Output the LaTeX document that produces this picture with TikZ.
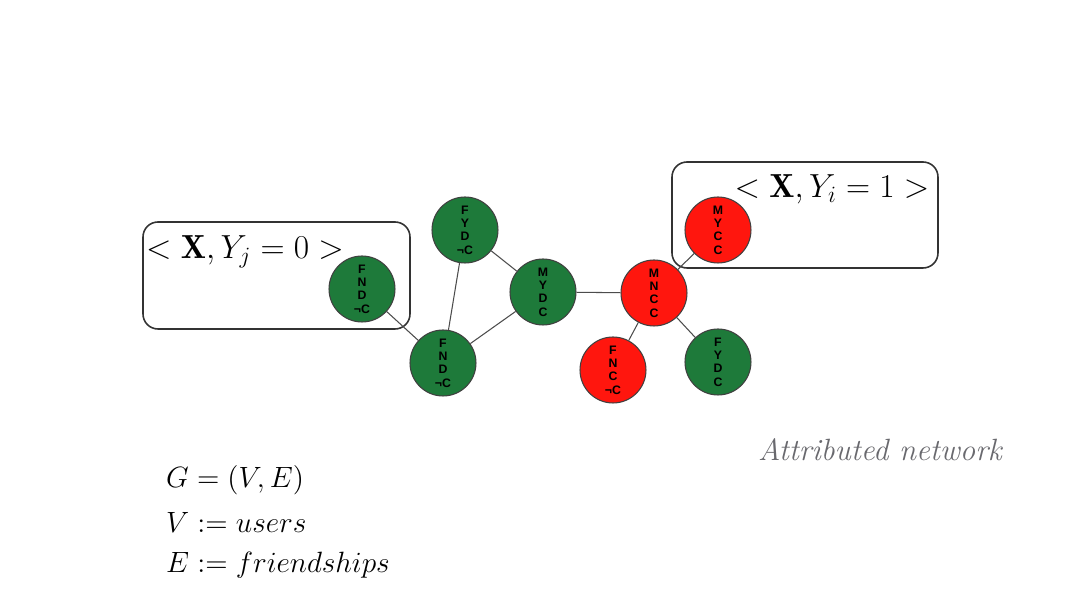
\RequirePackage{fix-cm}
\documentclass[tikz,border=0pt]{standalone}
\usepackage{fontspec}
\newfontfamily\lab{Liberation Sans}
\definecolor{ngreen}{RGB}{30,122,58}
\definecolor{nred}{RGB}{255,22,14}
\definecolor{txtgray}{RGB}{105,105,110}
\tikzset{
  usr/.style={circle, draw=black!75, line width=0.6pt, minimum size=1.32cm, inner sep=0pt,
    font=\lab\bfseries\fontsize{7}{7.6}\selectfont, align=center},
  g/.style={usr, fill=ngreen},
  r/.style={usr, fill=nred},
  edge/.style={draw=black!70, line width=0.6pt},
  frame/.style={draw=black!80, line width=0.9pt, rounded corners=0.3cm}
}
\begin{document}
\begin{tikzpicture}[x=0.02cm,y=-0.02cm]
\useasboundingbox (0,0) rectangle (1080,607);
% boxes
\draw[frame] (143,222) rectangle (410,329);
\draw[frame] (672,162) rectangle (938,268);
\node (lt) at (245,252) {\fontsize{19}{23}\selectfont $<\mathbf{X},Y_j=0>$};
\node (rt) at (832,189) {\fontsize{19}{23}\selectfont $<\mathbf{X},Y_i=1>$};
% nodes
\node[g] (a) at (362,289) {F\\N\\D\\¬C};
\node[g] (b) at (465,230) {F\\Y\\D\\¬C};
\node[g] (c) at (443,363) {F\\N\\D\\¬C};
\node[g] (d) at (543,292) {M\\Y\\D\\C};
\node[r] (e) at (654,293) {M\\N\\C\\C};
\node[r] (f) at (718,230) {M\\Y\\C\\C};
\node[r] (h) at (613,370) {F\\N\\C\\¬C};
\node[g] (k) at (718,362) {F\\Y\\D\\C};
% edges
\draw[edge] (a) -- (c);
\draw[edge] (b) -- (c);
\draw[edge] (b) -- (d);
\draw[edge] (c) -- (d);
\draw[edge] (d) -- (e);
\draw[edge] (e) -- (f);
\draw[edge] (e) -- (h);
\draw[edge] (e) -- (k);
% captions
\node[anchor=east, text=txtgray, font=\fontsize{17.5}{21}\selectfont\itshape] (cap) at (1008,450) {Attributed network};
\node[anchor=west] (m1) at (160,480) {\fontsize{16.7}{20}\selectfont $G=(V,E)$};
\node[anchor=west] (m2) at (160,522) {\fontsize{16.7}{20}\selectfont $V:=users$};
\node[anchor=west] (m3) at (160,565) {\fontsize{16.7}{20}\selectfont $E:=friendships$};
\end{tikzpicture}
\end{document}
